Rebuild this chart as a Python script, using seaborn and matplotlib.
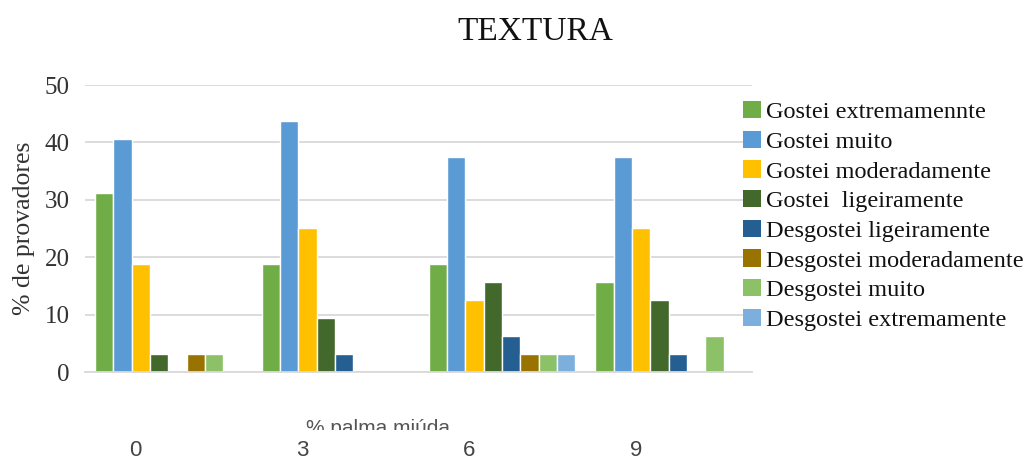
import matplotlib
matplotlib.use("Agg")
import matplotlib.pyplot as plt
from matplotlib.patches import Patch
from matplotlib.transforms import ScaledTranslation, Bbox, TransformedBbox
import seaborn as sns
import pandas as pd

# % palma miúda levels
levels = ["0", "3", "6", "9"]

responses = [
    "Gostei extremamennte",
    "Gostei muito",
    "Gostei moderadamente",
    "Gostei  ligeiramente",
    "Desgostei ligeiramente",
    "Desgostei moderadamente",
    "Desgostei muito",
    "Desgostei extremamente",
]

# % de provadores per response, one value per level (0, 3, 6, 9)
gostei_extremamente = [31.25, 18.75, 18.75, 15.625]
gostei_muito = [40.625, 43.75, 37.5, 37.5]
gostei_moderadamente = [18.75, 25.0, 12.5, 25.0]
gostei_ligeiramente = [3.125, 9.375, 15.625, 12.5]
desgostei_ligeiramente = [0.0, 3.125, 6.25, 3.125]
desgostei_moderadamente = [3.125, 0.0, 3.125, 0.0]
desgostei_muito = [3.125, 0.0, 3.125, 6.25]
desgostei_extremamente = [0.0, 0.0, 3.125, 0.0]

series = [
    gostei_extremamente, gostei_muito, gostei_moderadamente, gostei_ligeiramente,
    desgostei_ligeiramente, desgostei_moderadamente, desgostei_muito,
    desgostei_extremamente,
]

colors = ["#70AD47", "#5B9BD5", "#FFC000", "#43682B",
          "#255E91", "#997300", "#8CC168", "#7CAFDD"]

rows = []
for resp, vals in zip(responses, series):
    for lvl, v in zip(levels, vals):
        rows.append({"palma": lvl, "pct": v, "resp": resp})
df = pd.DataFrame(rows)

sns.set_theme(style="white")
plt.rcParams["font.family"] = ["Liberation Serif", "DejaVu Serif"]

W, H = 1032, 461
fig = plt.figure(figsize=(W / 100, H / 100), dpi=100)
ax = fig.add_axes([85 / W, 1 - 372 / H, (752 - 85) / W, (372 - 85) / H])

sns.barplot(data=df, x="palma", y="pct", hue="resp", order=levels,
            hue_order=responses, palette=colors, saturation=1, width=0.88,
            legend=False, ax=ax)

ax.set_ylim(0, 50)
ax.set_yticks(range(0, 51, 10))
ax.yaxis.grid(True, color="#D9D9D9", linewidth=1.3)
ax.set_axisbelow(True)
for s in ["top", "right", "left"]:
    ax.spines[s].set_visible(False)
ax.spines["bottom"].set_color("#D9D9D9")
ax.spines["bottom"].set_linewidth(1.3)
ax.tick_params(axis="y", length=0, pad=11, labelsize=18, labelcolor="#333333")
ax.set_ylabel("% de provadores", fontsize=18.5, color="#333333", labelpad=7)
ax.set_xlabel("")

# category labels sit low and slightly left of their groups
ax.tick_params(axis="x", length=0, pad=49, labelsize=16, labelcolor="#444444")
shift = ScaledTranslation(-33 / 100, 0, fig.dpi_scale_trans)
for lab in ax.get_xticklabels():
    lab.set_family(["Liberation Sans Narrow", "Liberation Sans"])
    lab.set_transform(lab.get_transform() + shift)

fig.text(535 / W, 1 - 32 / H, "TEXTURA", ha="center", va="center",
         fontsize=24, color="#111111")

xl = fig.text(378 / W, 1 - 419 / H, "% palma miúda", ha="center", va="top",
              fontsize=15, color="#555555",
              family=["Liberation Sans", "DejaVu Sans"])
xl.set_clip_box(TransformedBbox(Bbox([[0, 1 - 430 / H], [1, 1]]), fig.transFigure))
xl.set_clip_on(True)

handles = [Patch(facecolor=c, edgecolor="none") for c in colors]
fig.legend(handles, responses, loc="upper left",
           bbox_to_anchor=(743 / W, 1 - 101 / H), frameon=False,
           fontsize=17.5, handlelength=0.72, handleheight=0.72,
           handletextpad=0.22, labelspacing=0.31, borderpad=0,
           borderaxespad=0, labelcolor="#111111")

fig.savefig("out.png", dpi=100)
